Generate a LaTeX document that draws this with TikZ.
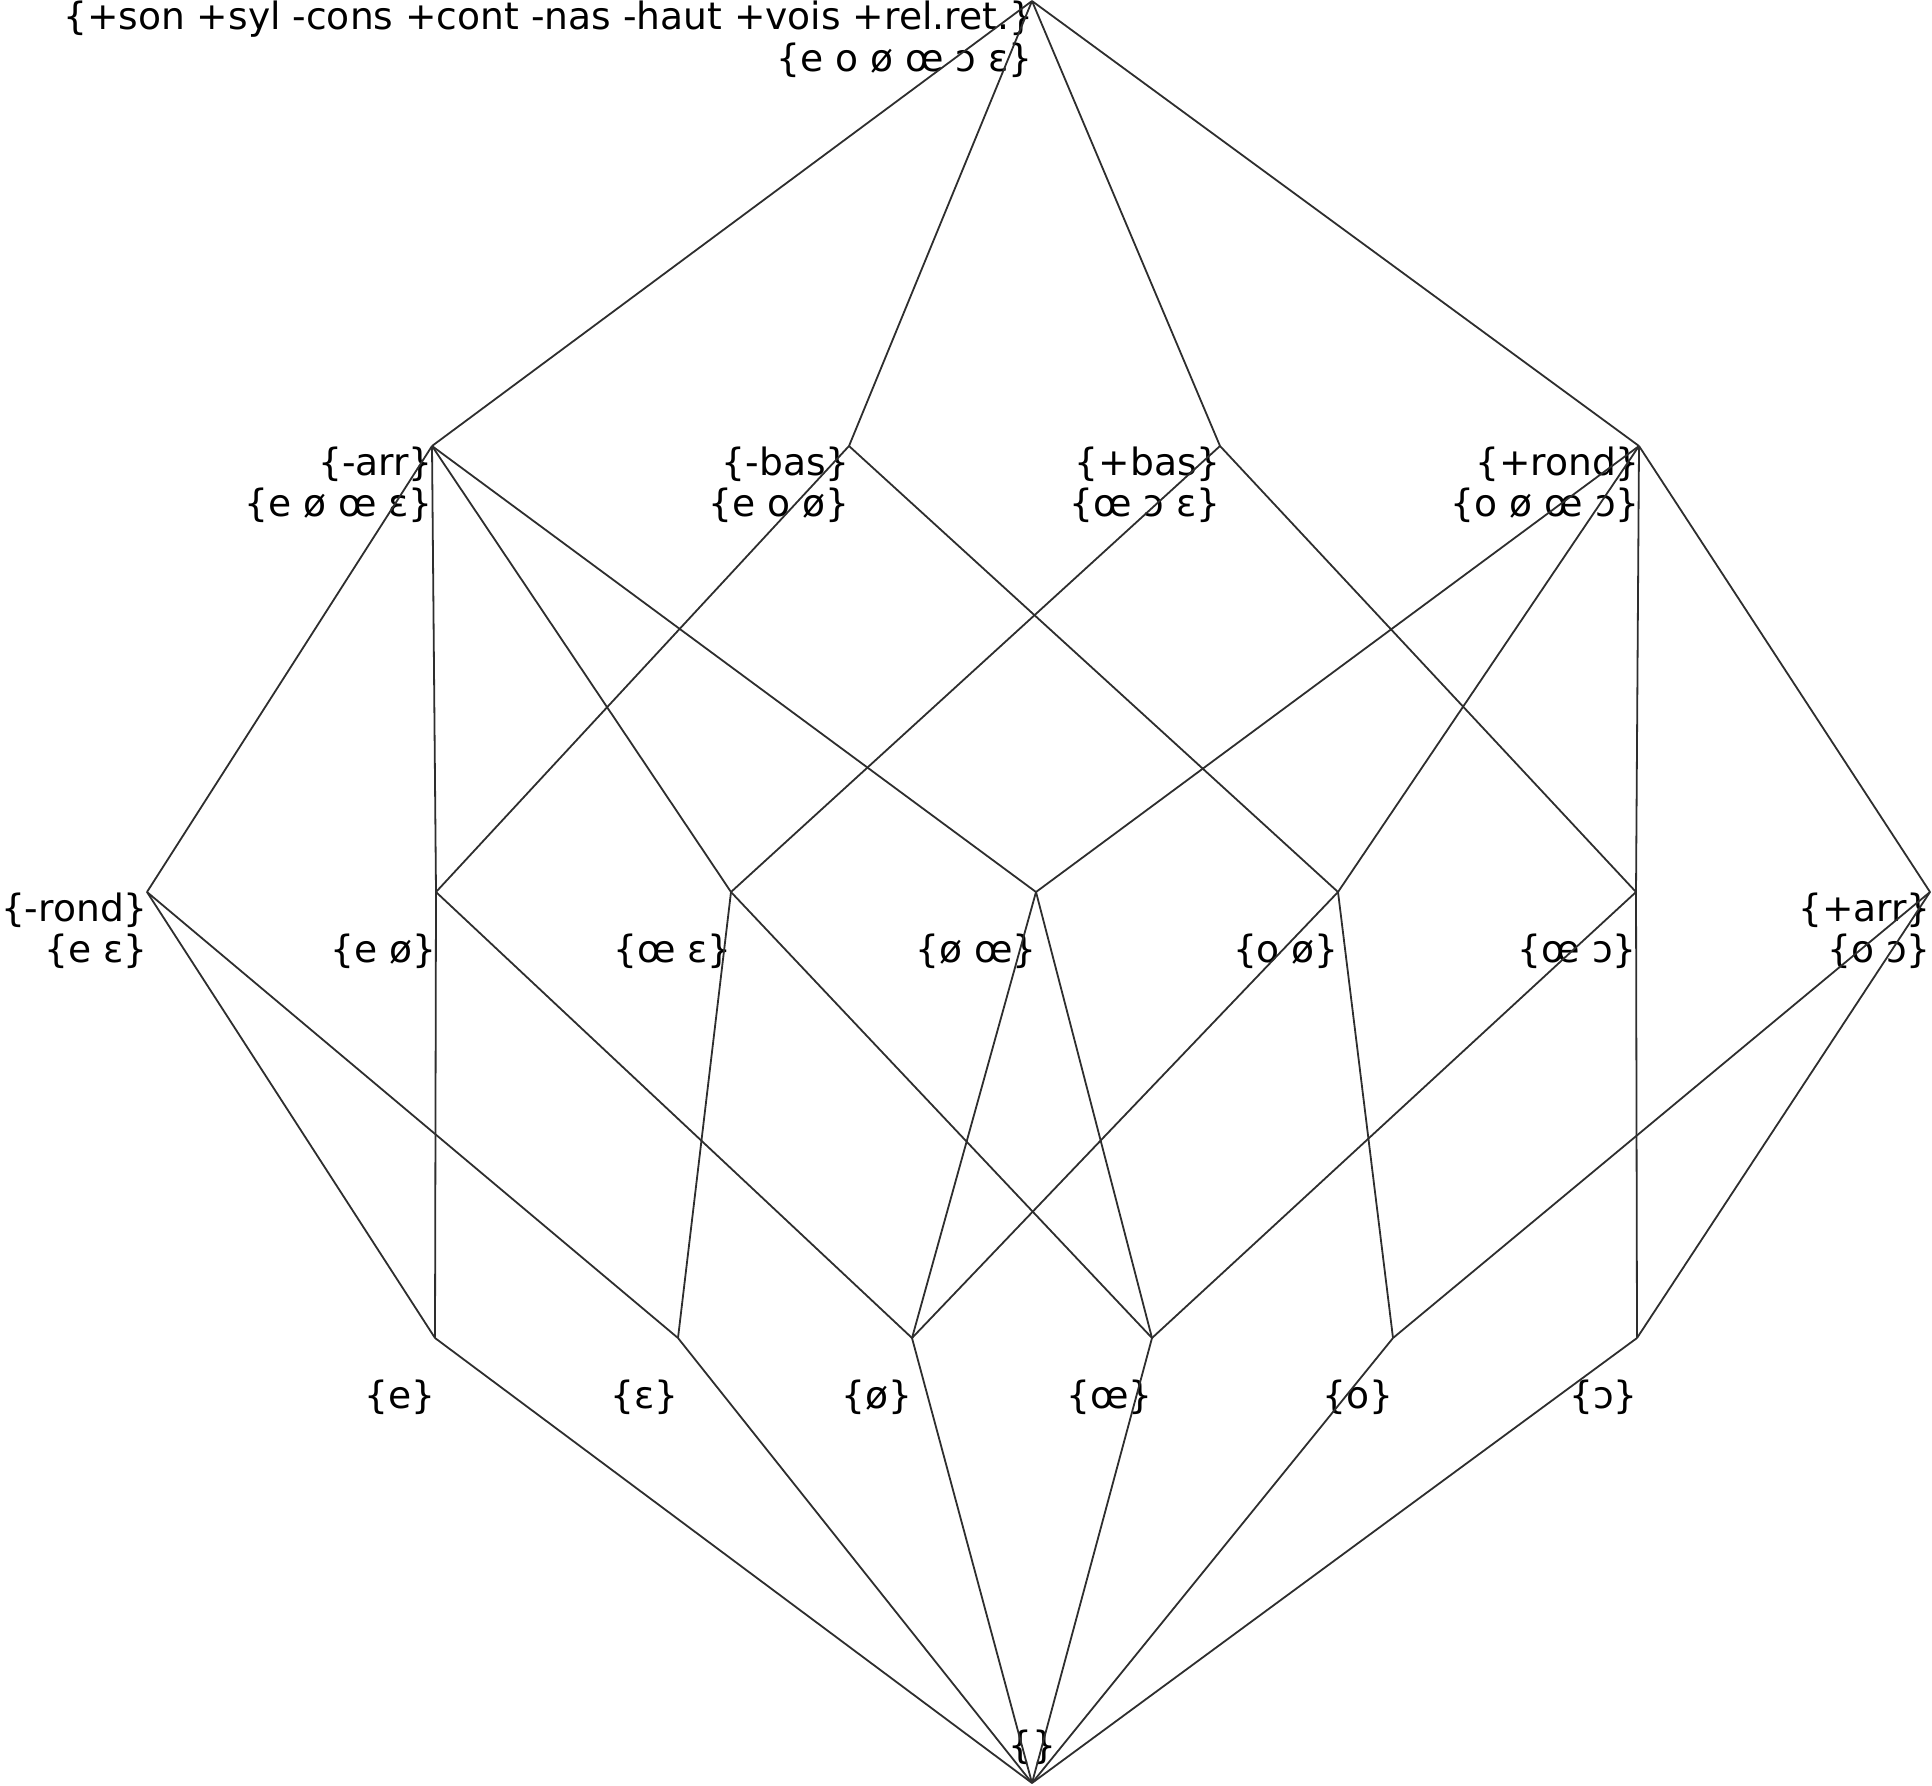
\documentclass[tikz,border=0pt]{standalone}
\usepackage{fontspec}
\setmainfont{DejaVu Sans}
\begin{document}
\begin{tikzpicture}[x=1pt,y=-1pt,
  edge/.style={draw=black!82, line width=1.8pt},
  lbl/.style={anchor=base east, inner sep=0pt, font=\fontsize{37.6}{43}\selectfont}]
\useasboundingbox (0,0) rectangle (1932,1785);
% vertices
\coordinate (top) at (1032,1);
\coordinate (a1) at (432,446);
\coordinate (a2) at (849,446);
\coordinate (a3) at (1220,446);
\coordinate (a4) at (1639,446);
\coordinate (b1) at (147,892);
\coordinate (b2) at (436,892);
\coordinate (b3) at (731,892);
\coordinate (b4) at (1036,892);
\coordinate (b5) at (1338,892);
\coordinate (b6) at (1636,892);
\coordinate (b7) at (1930,892);
\coordinate (c1) at (435,1338);
\coordinate (c2) at (678,1338);
\coordinate (c3) at (912,1338);
\coordinate (c4) at (1152,1338);
\coordinate (c5) at (1393,1338);
\coordinate (c6) at (1637,1338);
\coordinate (bot) at (1032,1783);
% labels
\node[lbl] (ti) at (1033,30) {\{+son +syl -cons +cont -nas -haut +vois +rel.ret.\}};
\node[lbl] (te) at (1033,71) {\{e o ø œ ɔ ɛ\}};
\node[lbl] (a1i) at (433,475) {\{-arr\}};
\node[lbl] (a1e) at (433,516) {\{e ø œ ɛ\}};
\node[lbl] (a2i) at (850,475) {\{-bas\}};
\node[lbl] (a2e) at (850,516) {\{e o ø\}};
\node[lbl] (a3i) at (1221,475) {\{+bas\}};
\node[lbl] (a3e) at (1221,516) {\{œ ɔ ɛ\}};
\node[lbl] (a4i) at (1640,475) {\{+rond\}};
\node[lbl] (a4e) at (1640,516) {\{o ø œ ɔ\}};
\node[lbl] (b1i) at (148,921) {\{-rond\}};
\node[lbl] (b1e) at (148,962) {\{e ɛ\}};
\node[lbl] (b2e) at (437,962) {\{e ø\}};
\node[lbl] (b3e) at (732,962) {\{œ ɛ\}};
\node[lbl] (b4e) at (1037,962) {\{ø œ\}};
\node[lbl] (b5e) at (1339,962) {\{o ø\}};
\node[lbl] (b6e) at (1637,962) {\{œ ɔ\}};
\node[lbl] (b7i) at (1931,921) {\{+arr\}};
\node[lbl] (b7e) at (1931,962) {\{o ɔ\}};
\node[lbl] (c1e) at (436,1408) {\{e\}};
\node[lbl] (c2e) at (679,1408) {\{ɛ\}};
\node[lbl] (c3e) at (913,1408) {\{ø\}};
\node[lbl] (c4e) at (1153,1408) {\{œ\}};
\node[lbl] (c5e) at (1394,1408) {\{o\}};
\node[lbl] (c6e) at (1638,1408) {\{ɔ\}};
\node[lbl, anchor=base] (be) at (1032,1758) {\{\}};
% edges
\foreach \t in {a1,a2,a3,a4} \draw[edge] (top) -- (\t);
\foreach \t in {b1,b2,b3,b4} \draw[edge] (a1) -- (\t);
\foreach \t in {b2,b5} \draw[edge] (a2) -- (\t);
\foreach \t in {b3,b6} \draw[edge] (a3) -- (\t);
\foreach \t in {b4,b5,b6,b7} \draw[edge] (a4) -- (\t);
\foreach \s/\t in {b1/c1,b1/c2,b2/c1,b2/c3,b3/c2,b3/c4,b4/c3,b4/c4,b5/c3,b5/c5,b6/c4,b6/c6,b7/c5,b7/c6}
  \draw[edge] (\s) -- (\t);
\foreach \s in {c1,c2,c3,c4,c5,c6} \draw[edge] (\s) -- (bot);
\end{tikzpicture}
\end{document}
